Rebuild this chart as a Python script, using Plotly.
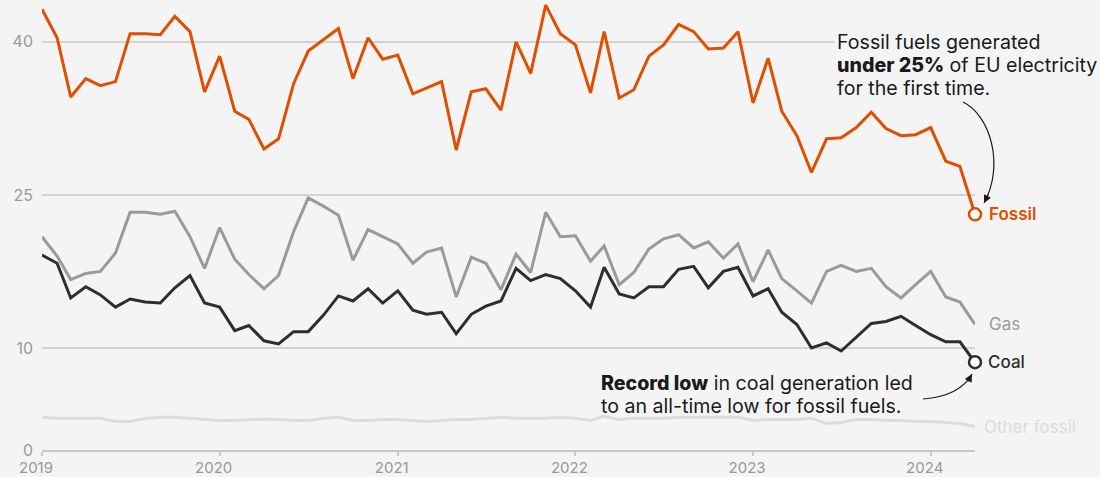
import pandas as pd
import plotly.graph_objects as go

months = pd.date_range("2019-01-01", periods=64, freq="MS")

fossil = [43.2, 40.4, 34.6, 36.4, 35.7, 36.1, 40.8, 40.8, 40.7, 42.5, 41.0, 35.1,
          38.6, 33.2, 32.4, 29.5, 30.5, 35.9, 39.1, 40.2, 41.3, 36.4, 40.4, 38.3,
          38.7, 34.9, 35.5, 36.1, 29.4, 35.1, 35.4, 33.3, 40.0, 36.9, 43.6, 40.8,
          39.7, 35.0, 41.0, 34.5, 35.3, 38.6, 39.7, 41.7, 41.0, 39.3, 39.4, 41.0,
          34.0, 38.4, 33.2, 30.8, 27.2, 30.5, 30.6, 31.6, 33.1, 31.5, 30.8, 30.9,
          31.6, 28.3, 27.8, 23.1]
gas = [20.9, 19.0, 16.7, 17.3, 17.5, 19.3, 23.3, 23.3, 23.1, 23.4, 20.9, 17.8,
       21.8, 18.7, 17.2, 15.8, 17.1, 21.4, 24.7, 23.9, 23.0, 18.6, 21.6, 20.9,
       20.2, 18.3, 19.4, 19.8, 15.0, 18.9, 18.3, 15.7, 19.2, 17.4, 23.3, 20.9,
       21.0, 18.5, 20.0, 16.2, 17.4, 19.7, 20.7, 21.1, 19.8, 20.4, 18.8, 20.2,
       16.5, 19.6, 16.8, 15.6, 14.4, 17.5, 18.1, 17.5, 17.8, 16.0, 14.9, 16.2,
       17.5, 15.0, 14.5, 12.3]
coal = [19.1, 18.3, 14.9, 16.0, 15.2, 14.0, 14.8, 14.5, 14.4, 15.9, 17.1, 14.4,
        14.0, 11.7, 12.2, 10.7, 10.4, 11.6, 11.6, 13.2, 15.1, 14.6, 15.8, 14.4,
        15.6, 13.7, 13.3, 13.5, 11.4, 13.3, 14.1, 14.6, 17.8, 16.6, 17.2, 16.8,
        15.6, 14.0, 17.9, 15.3, 14.9, 16.0, 16.0, 17.7, 18.0, 15.9, 17.5, 17.9,
        15.1, 15.8, 13.5, 12.3, 10.0, 10.5, 9.7, 11.1, 12.4, 12.6, 13.1, 12.2,
        11.3, 10.6, 10.6, 8.6]
other = [3.2, 3.1, 3.1, 3.1, 3.1, 2.8, 2.8, 3.1, 3.2, 3.2, 3.1, 3.0,
         2.9, 2.9, 3.0, 3.05, 3.0, 2.9, 2.9, 3.1, 3.2, 2.9, 2.9, 3.0,
         3.0, 2.9, 2.8, 2.9, 3.0, 3.0, 3.1, 3.2, 3.1, 3.1, 3.1, 3.2,
         3.1, 2.9, 3.3, 3.0, 3.1, 3.1, 3.1, 3.2, 3.2, 3.2, 3.2, 3.2,
         2.9, 3.0, 3.0, 3.0, 3.1, 2.6, 2.7, 3.0, 3.0, 2.9, 2.9, 2.8,
         2.8, 2.7, 2.6, 2.3]

year_ticks = ["2019-01-01", "2020-01-01", "2021-01-01", "2022-01-01", "2023-01-01", "2024-01-01"]
year_labels = ["2019", "2020", "2021", "2022", "2023", "2024"]
y_ticks = [0, 10, 25, 40]

fossil_note = ["Fossil fuels generated",
               "<span style='font-weight:800'>under 25%</span> of EU electricity",
               "for the first time."]
coal_note = ["<span style='font-weight:800'>Record low</span> in coal generation led",
             "to an all-time low for fossil fuels."]

ORANGE = "#E04F00"
GAS = "#9a9a9a"
COAL = "#2e2e2e"
OTHER = "#dcdcdc"
BG = "#f4f4f4"
TXT = "#1a1a1a"
FONT = "Inter"

W, H = 1100, 477
L, R, T, B = 42, 125, 0, 27
PW, PH = W - L - R, H - T - B


def px(x):
    return (x - L) / PW


def py(y):
    return (H - B - y) / PH


fig = go.Figure()
for vals, col in [(other, OTHER), (gas, GAS), (coal, COAL), (fossil, ORANGE)]:
    fig.add_trace(go.Scatter(x=months, y=vals, mode="lines",
                             line=dict(color=col, width=3), hoverinfo="skip",
                             showlegend=False))
for vals, col in [(coal, COAL), (fossil, ORANGE)]:
    fig.add_trace(go.Scatter(x=[months[-1]], y=[vals[-1]], mode="markers",
                             marker=dict(size=12, color="white",
                                         line=dict(color=col, width=2.5)),
                             showlegend=False, hoverinfo="skip", cliponaxis=False))

# end labels
end_labels = [
    (fossil[-1], ORANGE, 12, "Fossil", 600),
    (gas[-1], GAS, 12, "Gas", 400),
    (coal[-1], COAL, 11, "Coal", 500),
    (other[-1], OTHER, 7, "Other fossil", 400),
]
for v, col, shift, txt, wt in end_labels:
    fig.add_annotation(x=months[-1], y=v, xref="x", yref="y", text=txt,
                       showarrow=False, xanchor="left", yanchor="middle",
                       xshift=shift, font=dict(family=FONT, size=17, color=col, weight=wt))

# callouts, one line per annotation to control spacing
for i, line in enumerate(fossil_note):
    fig.add_annotation(xref="paper", yref="paper", x=px(834), y=py(42 + 23 * i),
                       xanchor="left", yanchor="middle", align="left", text=line,
                       showarrow=False, bgcolor=BG if i == 0 else None, borderpad=2,
                       font=dict(family=FONT, size=19.6, color=TXT))
for i, line in enumerate(coal_note):
    fig.add_annotation(xref="paper", yref="paper", x=px(598), y=py(383 + 23 * i),
                       xanchor="left", yanchor="middle", align="left", text=line,
                       showarrow=False, borderpad=2,
                       font=dict(family=FONT, size=19.6, color=TXT))

# curved arrows
p1 = "M {},{} C {},{} {},{} {},{}".format(px(963), py(102), px(990), py(115),
                                          px(1005), py(165), px(984), py(203))
p2 = "M {},{} Q {},{} {},{}".format(px(923), py(399), px(960), py(396),
                                    px(972), py(374))
for p in (p1, p2):
    fig.add_shape(type="path", path=p, xref="paper", yref="paper",
                  line=dict(color=TXT, width=1.2), layer="above")
fig.add_annotation(xref="paper", yref="paper", x=px(984), y=py(203), ax=5, ay=-10,
                   text="", showarrow=True, arrowhead=2, arrowsize=1.3,
                   arrowwidth=1.2, arrowcolor=TXT, standoff=0)
fig.add_annotation(xref="paper", yref="paper", x=px(972), y=py(374), ax=-5, ay=9,
                   text="", showarrow=True, arrowhead=2, arrowsize=1.3,
                   arrowwidth=1.2, arrowcolor=TXT, standoff=0)

fig.update_layout(
    width=W, height=H,
    margin=dict(l=L, r=R, t=T, b=B, pad=0),
    paper_bgcolor=BG, plot_bgcolor=BG,
    font=dict(family=FONT, color="#999999", size=16),
    xaxis=dict(range=[months[0], months[-1]], tickvals=year_ticks, ticktext=year_labels,
               showgrid=False, showline=True, linecolor="#c8c8c8", linewidth=1.5,
               ticks="outside", ticklen=4, tickwidth=1.5, tickcolor="#c8c8c8",
               tickfont=dict(family=FONT, size=15, color="#999999"),
               ticklabelshift=-6, ticklabelstandoff=-1,
               zeroline=False, automargin=False, fixedrange=True),
    yaxis=dict(range=[0, 44.1], tickvals=y_ticks, ticktext=[str(v) for v in y_ticks],
               showgrid=True, gridcolor="#d2d2d2", gridwidth=1.5, zeroline=False,
               showline=False, ticks="", ticklabelstandoff=8,
               tickfont=dict(family=FONT, size=16, color="#999999"),
               automargin=False, fixedrange=True),
)

fig.write_html("out.html", config={"displayModeBar": False},
               post_script="document.body.style.margin='0';")
